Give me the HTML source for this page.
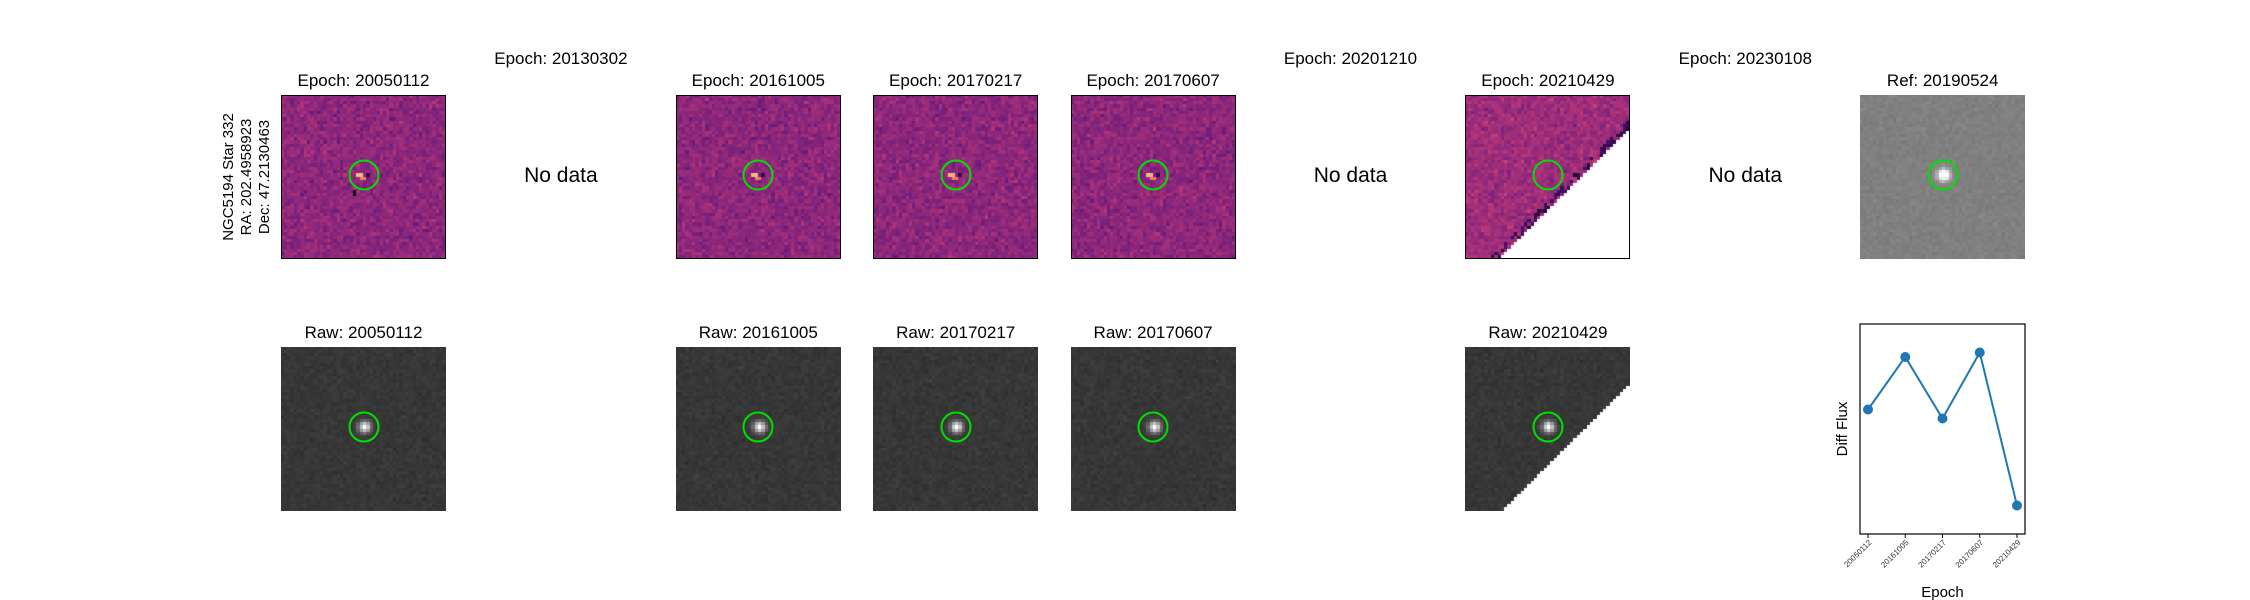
<!DOCTYPE html>
<html><head><meta charset="utf-8">
<style>
body{margin:0;background:#fff;}
#root{position:relative;width:2250px;height:600px;overflow:hidden;font-family:"Liberation Sans","DejaVu Sans",sans-serif;color:#000;}
.t{position:absolute;font-size:17px;white-space:nowrap;transform:translateX(-50%);}
.nd{position:absolute;font-size:21px;white-space:nowrap;transform:translate(-50%,-50%);}
canvas{position:absolute;}
.circ{position:absolute;width:31px;height:31px;border:2px solid #00e000;border-radius:50%;box-sizing:border-box;transform:translate(-50%,-50%);}
.frame{position:absolute;border:1.3px solid #000;box-sizing:border-box;pointer-events:none;}
</style></head>
<body>
<div id="root">
<div style="position:absolute;left:247px;top:177px;transform:translate(-50%,-50%) rotate(-90deg);font-size:15px;line-height:18px;text-align:center;white-space:nowrap;">NGC5194 Star 332<br>RA: 202.4958923<br>Dec: 47.2130463</div>
<svg id="lc" width="2250" height="600" style="position:absolute;left:0;top:0"></svg>
</div>
<script>
const epochs=["20050112","20130302","20161005","20170217","20170607","20201210","20210429","20230108"];
const hasData=[true,false,true,true,true,false,true,false];
const lcEpochs=["20050112","20161005","20170217","20170607","20210429"];
const lcFlux=[0.53,0.88,0.47,0.91,-0.11];
const yDomain=[-0.3,1.1];

const root=document.getElementById('root');
let seed=12345;
function rnd(){seed=(seed*1103515245+12345)%2147483648;return seed/2147483648;}
function gauss(){return (rnd()+rnd()+rnd()-1.5);}
const X0=281,STEP=197.4,W=165,H=164,R1=95,R2=347;
function magma(v){
 v=Math.max(0,Math.min(1,v));
 const st=[[0,[0,0,4]],[0.25,[80,18,123]],[0.5,[182,54,121]],[0.75,[251,136,97]],[1,[252,253,191]]];
 for(let i=0;i<4;i++){const a=st[i],b=st[i+1];if(v<=b[0]){const t=(v-a[0])/(b[0]-a[0]);return a[1].map((c,k)=>Math.round(c+(b[1][k]-c)*t));}}
 return st[4][1];
}
function panel(x,y,kind,cut,name,first){
 const c=document.createElement('canvas');c.width=W;c.height=H;c.style.left=x+'px';c.style.top=y+'px';
 
 
 root.appendChild(c);const g=c.getContext('2d');const N=50,cw=W/N,ch=H/N;
 for(let j=0;j<N;j++)for(let i=0;i<N;i++){
  const dx=i-25,dy=j-24,r2=dx*dx+dy*dy;let col;
  const s=i+j;
  const cutLine=cut?(s>=cut):false;
  if(kind==='diff'){
   let v=0.40+gauss()*0.08; if(cut) v+=0.04;
   if(!cut){
    if((dx===-2||dx===-1)&&dy===0)v=0.85;
    else if((dx===-1||dx===0)&&dy===1)v=0.72;
    else if(dx===1&&dy===0)v=0.15;
    if(first&&dx===-3&&(dy===5||dy===6))v=0.03;
   }
   if(cut&&s>=cut-3&&s<cut&&rnd()<0.45)v=0.08+rnd()*0.15;
   col=magma(v);
  } else {
   const base=kind==='raw'?55:128;
   let v=base+gauss()*7+Math.exp(-r2/3)*200;
   v=Math.min(255,v);col=[v,v,v].map(Math.round);
  }
  if(cutLine)col=[255,255,255];
  g.fillStyle='rgb('+col.join(',')+')';g.fillRect(Math.floor(i*cw),Math.floor(j*ch),Math.ceil(cw)+1,Math.ceil(ch)+1);
 }
 const ci=document.createElement('div');ci.className='circ';ci.style.left=(x+W/2)+'px';ci.style.top=(y+H/2-2)+'px';
 
 
 root.appendChild(ci);
 if(kind==='diff'){const f=document.createElement('div');f.className='frame';f.style.cssText+=`left:${x}px;top:${y}px;width:${W}px;height:${H}px`;root.appendChild(f);}
}
function title(x,y,txt,name){const d=document.createElement('div');d.className='t';d.style.left=x+'px';d.style.top=y+'px';d.textContent=txt;
 
 
 root.appendChild(d);}
epochs.forEach((e,k)=>{
 const x=X0+STEP*k;
 if(hasData[k]){
  const cut=e==='20210429'?60:null;
  title(x+W/2,71,'Epoch: '+e,'diff-title');
  panel(x,R1,'diff',cut,'diff-image-'+e,k===0);
  title(x+W/2,323,'Raw: '+e,'raw-title');
  panel(x,R2,'raw',cut?61:null,'raw-image-'+e,false);
 } else {
  title(x+W/2,49,'Epoch: '+e,'nodata-title');
  const d=document.createElement('div');d.className='nd';d.style.left=(x+W/2)+'px';d.style.top='176px';d.textContent='No data';
  
  
  root.appendChild(d);
 }
});
const xr=X0+STEP*8;
title(xr+W/2,71,'Ref: 20190524','ref-title');
panel(xr,R1,'ref',null,'ref-image',false);

// light curve
const svg=document.getElementById('lc');const NS='http://www.w3.org/2000/svg';
const ax={l:1860,r:2025,t:324,b:534};
const n=lcEpochs.length;
function sx(i){return ax.l+8+i*((ax.r-ax.l-16)/(n-1));}
function sy(v){return ax.b-(v-yDomain[0])/(yDomain[1]-yDomain[0])*(ax.b-ax.t);}
function el(t,a,txt){const e=document.createElementNS(NS,t);for(const k in a)e.setAttribute(k,a[k]);if(txt!=null)e.textContent=txt;svg.appendChild(e);return e;}
let e=el('rect',{x:ax.l,y:ax.t,width:ax.r-ax.l,height:ax.b-ax.t,fill:'none',stroke:'#000','stroke-width':1.2});


e=el('polyline',{points:lcFlux.map((v,i)=>sx(i)+','+sy(v)).join(' '),fill:'none',stroke:'#1f77b4','stroke-width':2});


lcFlux.forEach((v,i)=>{
 const c=el('circle',{cx:sx(i),cy:sy(v),r:5,fill:'#1f77b4'});
 
 
 el('line',{x1:sx(i),x2:sx(i),y1:ax.b,y2:ax.b+4,stroke:'#000','stroke-width':1});
 const t=el('text',{x:sx(i)+4,y:ax.b+9,'font-size':8,'text-anchor':'end',fill:'#333',transform:`rotate(-45 ${sx(i)+4} ${ax.b+9})`,'font-family':'Liberation Sans, sans-serif'},lcEpochs[i]);
 
 
});
e=el('text',{x:(ax.l+ax.r)/2,y:597,'font-size':15,'text-anchor':'middle','font-family':'Liberation Sans, sans-serif'},'Epoch');


e=el('text',{x:1847,y:(ax.t+ax.b)/2,'font-size':15,'text-anchor':'middle',transform:`rotate(-90 1847 ${(ax.t+ax.b)/2})`,'font-family':'Liberation Sans, sans-serif'},'Diff Flux');


</script>
</body></html>
